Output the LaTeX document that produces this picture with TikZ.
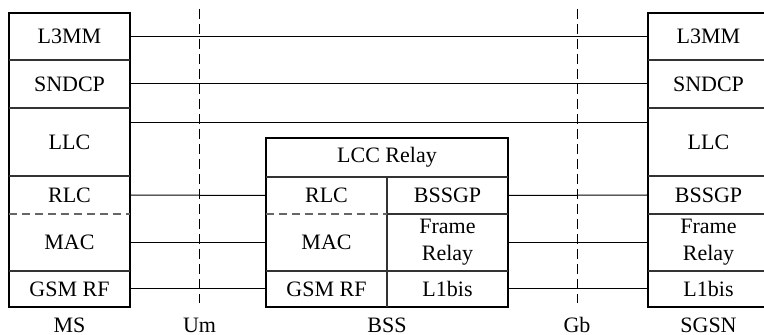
\documentclass[tikz,border=0pt]{standalone}
\usepackage{fontspec}
\setmainfont{Liberation Serif}
\usetikzlibrary{positioning,calc}
% one protocol layer: name, left, right, top, bottom (px), text
\newcommand{\layer}[6]{%
  \node[layer,minimum width={(#3-#2)*0.5pt},minimum height={(#5-#4)*0.5pt}]
    (#1) at ({(#2+#3)/2},{(#4+#5)/2}) {#6};}

\begin{document}
\begin{tikzpicture}[x=0.5pt,y=-0.5pt,
  layer/.style={inner sep=0pt,outer sep=0pt,align=center,font=\fontsize{11}{13.5}\selectfont},
  stack/.style={line width=0.7pt},
  sep/.style={line width=0.6pt,black!80},
  peer/.style={line width=0.5pt},
  iface/.style={line width=0.5pt,dash pattern=on 5pt off 2.5pt},
  split/.style={line width=0.6pt,black!60,dash pattern=on 4pt off 2.5pt},
  tag/.style={font=\fontsize{11}{13.5}\selectfont,anchor=base}]
  \useasboundingbox (0,0) rectangle (764,335);
  % MS stack
  \foreach \n/\a/\b/\s in {l3/13/60/L3MM,sndcp/60/108/SNDCP,llc/108/176/LLC,
                           rlc/176/214/RLC,mac/214/271/MAC,rf/271/307/GSM RF}{
    \layer{ms-\n}{9}{130}{\a}{\b}{\s}}
  % BSS stack
  \layer{bss-relay}{266}{508}{138}{177}{LCC Relay}
  \foreach \n/\a/\b/\s in {rlc/177/214/RLC,mac/214/271/MAC,rf/271/307/GSM RF}{
    \layer{bss-\n}{266}{387}{\a}{\b}{\s}}
  \foreach \n/\a/\b/\s in {bssgp/177/214/BSSGP,fr/214/271/{Frame\\Relay},l1/271/307/L1bis}{
    \layer{bss-\n}{387}{508}{\a}{\b}{\s}}
  % SGSN stack
  \foreach \n/\a/\b/\s in {l3/13/60/L3MM,sndcp/60/108/SNDCP,llc/108/176/LLC,
                           bssgp/176/214/BSSGP,fr/214/271/{Frame\\Relay},l1/271/307/L1bis}{
    \layer{sgsn-\n}{648}{769}{\a}{\b}{\s}}

  % outlines
  \draw[stack] (ms-l3.north west) rectangle (ms-rf.south east);
  \foreach \n in {l3,sndcp,llc,mac}
    \draw[sep] (ms-\n.south west) -- (ms-\n.south east);
  \draw[split] (ms-rlc.south west) -- (ms-rlc.south east);

  \draw[stack] (bss-relay.north west) rectangle (bss-l1.south east);
  \draw[sep] (bss-relay.south west) -- (bss-relay.south east);
  \draw[sep] (bss-rlc.north east) -- (bss-rf.south east);
  \draw[split] (bss-rlc.south west) -- (bss-rlc.south east);
  \draw[sep] (bss-bssgp.south west) -- (bss-bssgp.south east);
  \draw[sep] (bss-mac.south west) -- (bss-fr.south east);

  \draw[stack] (sgsn-l3.north west) rectangle (sgsn-l1.south east);
  \foreach \n in {l3,sndcp,llc,bssgp,fr}
    \draw[sep] (sgsn-\n.south west) -- (sgsn-\n.south east);

  % peer links
  \foreach \l/\r in {ms-l3/sgsn-l3,ms-sndcp/sgsn-sndcp,ms-rlc/bss-rlc,ms-mac/bss-mac,
                     ms-rf/bss-rf,bss-bssgp/sgsn-bssgp,bss-fr/sgsn-fr,bss-l1/sgsn-l1}
    \draw[peer] (\l.east) -- (\r.west);
  \draw[peer] ([yshift=-7.5pt]ms-llc.north east) -- ([yshift=-7.5pt]sgsn-llc.north west);

  % interfaces
  \coordinate (um-top) at (199.5,9);
  \coordinate (um-bot) at (199.5,303);
  \coordinate (gb-top) at (577,9);
  \coordinate (gb-bot) at (577,303);
  \draw[iface] (um-top) -- (um-bot);
  \draw[iface] (gb-top) -- (gb-bot);

  % labels
  \node[tag] (ms)   at (69.5,333)  {MS};
  \node[tag] (um)   at (199.5,333) {Um};
  \node[tag] (bss)  at (387,333)   {BSS};
  \node[tag] (gb)   at (577,333)   {Gb};
  \node[tag] (sgsn) at (708.5,333) {SGSN};
\end{tikzpicture}
\end{document}
